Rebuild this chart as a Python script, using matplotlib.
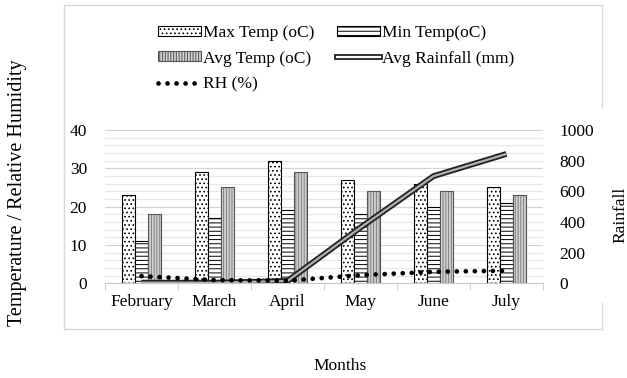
import numpy as np
import matplotlib.pyplot as plt
from matplotlib.lines import Line2D
from matplotlib.patches import Patch

plt.rcParams['font.family'] = ['Liberation Serif', 'DejaVu Serif']
plt.rcParams['hatch.linewidth'] = 0.7

# data
months = ["February", "March", "April", "May", "June", "July"]
max_temp = [23, 29, 32, 27, 26, 25]
min_temp = [11, 17, 19, 18, 20, 21]
avg_temp = [18, 25, 29, 24, 24, 23]
rainfall = [4, 4, 15, 364, 699, 844]
rh = [47, 21, 17, 53, 75, 82]

W, H = 627, 378
fig = plt.figure(figsize=(W / 100, H / 100), dpi=100)
ax = fig.add_axes([105 / W, 1 - 283.3 / H, 438 / W, 153.3 / H])
ax2 = ax.twinx()

x = np.arange(len(months))
bw = 0.178
fs = 12.5

# bars
ax.bar(x - bw, max_temp, bw, facecolor="white", edgecolor="black", hatch="....", lw=0.8, zorder=3)
ax.bar(x, min_temp, bw, facecolor="white", edgecolor="black", hatch="----", lw=0.8, zorder=3)
ax.bar(x + bw, avg_temp, bw, facecolor="#d0d0d0", edgecolor="#808080", hatch="||||||", lw=0, zorder=3)
ax.bar(x + bw, avg_temp, bw, facecolor="none", edgecolor="#555555", lw=0.8, zorder=3)

# gridlines every 2, slightly darker at tens
for v in range(2, 41, 2):
    ax.axhline(v, color="#d4d4d4" if v % 10 == 0 else "#e6e6e6", lw=0.8, zorder=0)

ax.set_xlim(-0.5, len(months) - 0.5)
ax.set_ylim(0, 40)
ax.set_yticks(range(0, 41, 10))
ax.set_xticks(x)
ax.set_xticklabels(months, fontsize=fs)
ax.set_xticks(np.arange(-0.5, len(months), 1), minor=True)
ax.tick_params(axis="x", which="major", length=0, pad=8)
ax.tick_params(axis="x", which="minor", length=5, color="#c8c8c8")
ax.tick_params(axis="y", length=0, labelsize=fs, pad=13)
for s in ["top", "left", "right"]:
    ax.spines[s].set_visible(False)
    ax2.spines[s].set_visible(False)
ax.spines["bottom"].set_color("#c8c8c8")
ax2.spines["bottom"].set_visible(False)

# lines on the rainfall axis
rh_style = dict(color="black", lw=3.4, linestyle=(0, (0.01, 1.9)), dash_capstyle="round")
ax2.plot(x, rainfall, color="#222222", lw=4.2, solid_capstyle="butt", zorder=4)
ax2.plot(x, rainfall, color="#b0b0b0", lw=1.6, solid_capstyle="butt", zorder=5)
ax2.plot(x, rh, zorder=6, **rh_style)
ax2.set_ylim(0, 1000)
ax2.set_yticks(range(0, 1001, 200))
ax2.tick_params(axis="y", length=0, labelsize=fs, pad=12)

# legend
h_max = Patch(facecolor="white", edgecolor="black", hatch="....", lw=0.8)
h_min = Patch(facecolor="white", edgecolor="black", hatch="----", lw=0.8)
h_avg = Patch(facecolor="#d0d0d0", edgecolor="#555555", hatch="||||||", lw=0.8)
h_rain = (Line2D([], [], color="#222222", lw=4.2), Line2D([], [], color="white", lw=1.6))
h_rh = Line2D([], [], **rh_style)
fig.legend([h_max, h_avg, h_rh, h_min, h_rain],
           ["Max Temp (oC)", "Avg Temp (oC)", "RH (%)", "Min Temp(oC)", "Avg Rainfall (mm)"],
           ncol=2, loc="upper left", bbox_to_anchor=(158 / W, 1 - 25 / H),
           frameon=False, fontsize=fs, borderpad=0, borderaxespad=0,
           handlelength=2.45, handleheight=0.5, handletextpad=0.15,
           columnspacing=1.3, labelspacing=0.55)

# axis titles
fig.text(18 / W, 1 - 193 / H, "Temperature / Relative Humidity", rotation=90,
         ha="center", va="center", fontsize=14.5)
fig.text(620 / W, 1 - 215 / H, "Rainfall", rotation=90, ha="center", va="center", fontsize=fs)
fig.text(340 / W, 1 - 366 / H, "Months", ha="center", va="center", fontsize=fs)

# chart border (light grey, right edge broken as in the original)
bc = "#d9d9d9"
L, R, T, B = 64 / W, 602 / W, 1 - 5 / H, 1 - 329 / H
fig.add_artist(Line2D([L, R], [T, T], color=bc, lw=1, transform=fig.transFigure))
fig.add_artist(Line2D([L, R], [B, B], color=bc, lw=1, transform=fig.transFigure))
fig.add_artist(Line2D([L, L], [B, T], color=bc, lw=1, transform=fig.transFigure))
fig.add_artist(Line2D([R, R], [1 - 107 / H, T], color=bc, lw=1, transform=fig.transFigure))
fig.add_artist(Line2D([R, R], [B, 1 - 303 / H], color=bc, lw=1, transform=fig.transFigure))

fig.savefig("out.png", dpi=100)
